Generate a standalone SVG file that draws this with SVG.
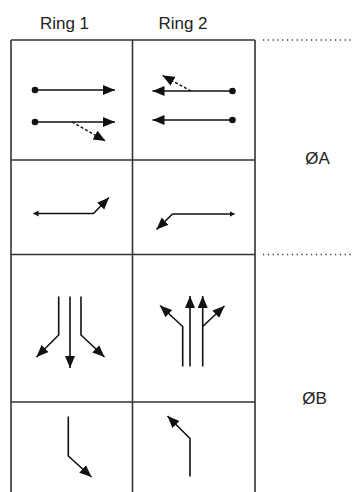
<svg xmlns="http://www.w3.org/2000/svg" width="352" height="492" viewBox="0 0 352 492">
  <style>
    .grid { stroke: #333; stroke-width: 1.6; fill: none; }
    .dot-line { stroke: #333; stroke-width: 1.3; stroke-dasharray: 1.2 3.6; fill: none; }
    .mv { stroke: #111; stroke-width: 1.6; fill: none; }
    .dash { stroke: #111; stroke-width: 1.4; stroke-dasharray: 3 2; fill: none; }
    .txt { font-family: "Liberation Sans", Arial, sans-serif; font-size: 17px; fill: #222; text-anchor: middle; }
    .dot { fill: #111; }
  </style>
  <defs>
    <marker id="ah" markerUnits="userSpaceOnUse" markerWidth="13" markerHeight="11" refX="12" refY="5" orient="auto" viewBox="0 0 13 11">
      <path d="M0,0 L12,5 L0,10 z" fill="#111"/>
    </marker>
    <marker id="ahs" markerUnits="userSpaceOnUse" markerWidth="6" markerHeight="7" refX="5" refY="3" orient="auto-start-reverse" viewBox="0 0 6 7">
      <path d="M0,0 L5,3 L0,6 z" fill="#111"/>
    </marker>
  </defs>
  <rect width="352" height="492" fill="#fff"/>

  <g id="headers">
    <text class="txt" x="64.5" y="29">Ring 1</text>
    <text class="txt" x="183" y="29">Ring 2</text>
  </g>

  <g id="grid">
    <path class="grid" d="M11,40 H255 M11,40 V492 M132.5,40 V492 M255,40 V492 M11,160 H255 M11,254.5 H255 M11,402 H255"/>
    <path class="dot-line" d="M263,40 H352 M263,254.5 H352"/>
  </g>

  <g id="phase-labels">
    <text class="txt" x="317.5" y="164">ØA</text>
    <text class="txt" x="314.5" y="404">ØB</text>
  </g>

  <g id="connectors">
    <g id="r1-through">
      <circle class="dot" cx="35" cy="90" r="3.3"/>
      <line class="mv" x1="35" y1="90" x2="115" y2="90" marker-end="url(#ah)"/>
      <circle class="dot" cx="35" cy="122" r="3.3"/>
      <line class="mv" x1="35" y1="122" x2="115" y2="122" marker-end="url(#ah)"/>
      <line class="dash" x1="72" y1="122" x2="105.5" y2="141" marker-end="url(#ah)"/>
    </g>
    <g id="r2-through">
      <circle class="dot" cx="232.5" cy="91" r="3.3"/>
      <line class="mv" x1="232.5" y1="91" x2="152.5" y2="91" marker-end="url(#ah)"/>
      <circle class="dot" cx="232.5" cy="120" r="3.3"/>
      <line class="mv" x1="232.5" y1="120" x2="152.5" y2="120" marker-end="url(#ah)"/>
      <line class="dash" x1="191" y1="91" x2="162.5" y2="75.5" marker-end="url(#ah)"/>
    </g>
    <g id="r1-left">
      <polyline class="mv" points="33.5,213.5 93.5,213.5 109,197.5" marker-start="url(#ahs)" marker-end="url(#ah)"/>
    </g>
    <g id="r2-left">
      <polyline class="mv" points="234.5,214 172.5,214 156.5,229.5" marker-start="url(#ahs)" marker-end="url(#ah)"/>
    </g>
    <g id="r1-split">
      <polyline class="mv" points="58.7,296.5 58.7,335 36.5,357" marker-end="url(#ah)"/>
      <line class="mv" x1="70" y1="296.5" x2="70" y2="368" marker-end="url(#ah)"/>
      <polyline class="mv" points="81,296.5 81,335 104.5,357" marker-end="url(#ah)"/>
    </g>
    <g id="r2-split">
      <polyline class="mv" points="182.7,366.5 182.7,326.5 160,305.5" marker-end="url(#ah)"/>
      <line class="mv" x1="190" y1="366.5" x2="190" y2="296" marker-end="url(#ah)"/>
      <line class="mv" x1="202.7" y1="366.5" x2="202.7" y2="296" marker-end="url(#ah)"/>
      <polyline class="mv" points="202.7,326.5 224.5,306" marker-end="url(#ah)"/>
    </g>
    <g id="r1-right">
      <polyline class="mv" points="68.3,416.5 68.3,456 91.5,477" marker-end="url(#ah)"/>
    </g>
    <g id="r2-right">
      <polyline class="mv" points="190,476.5 190,438.5 167.5,416" marker-end="url(#ah)"/>
    </g>
  </g>
</svg>
